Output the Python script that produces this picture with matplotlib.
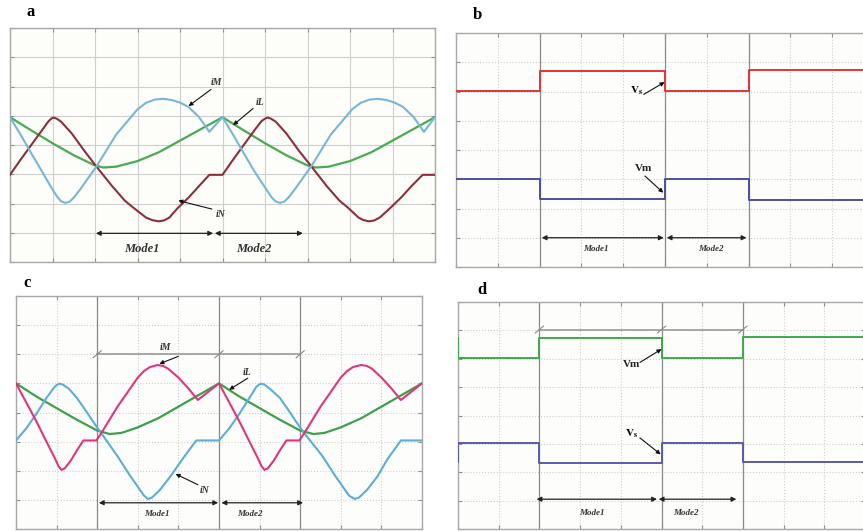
import matplotlib
matplotlib.use("Agg")
import matplotlib.pyplot as plt

plt.rcParams['mathtext.fontset'] = 'stix'
SERIF = ['Liberation Serif', 'DejaVu Serif']

# ---------------- data (x and y in scope divisions) ----------------
# panel a
a_t_iM = [0, 0.25, 0.5, 0.75, 0.95, 1.1, 1.2, 1.3, 1.4, 1.5, 1.65, 2.04, 2.5, 3.0, 3.2, 3.4, 3.6, 3.8, 4.0, 4.2, 4.45, 4.69, 5.0,
          5.25, 5.5, 5.75, 6.0, 6.15, 6.25, 6.35, 6.45, 6.55, 6.7, 7.1, 7.55, 8.05, 8.25, 8.45, 8.65, 8.85, 9.05, 9.25, 9.5, 9.74, 10.0]
a_iM = [4.95, 4.35, 3.72, 3.1, 2.6, 2.25, 2.08, 2.02, 2.06, 2.2, 2.48, 3.28, 4.36, 5.22, 5.44, 5.55, 5.58, 5.54, 5.45, 5.3, 4.95, 4.45, 4.95,
        4.35, 3.72, 3.1, 2.55, 2.22, 2.07, 2.02, 2.06, 2.2, 2.48, 3.3, 4.36, 5.22, 5.44, 5.55, 5.58, 5.54, 5.45, 5.3, 4.95, 4.45, 4.95]
a_t_iN = [0, 0.25, 0.5, 0.75, 0.9, 0.97, 1.02, 1.1, 1.2, 1.45, 1.75, 2.04, 2.4, 2.7, 2.9, 3.2, 3.35, 3.5, 3.62, 3.75, 3.95, 4.2, 4.45, 4.69, 5.0,
          5.25, 5.5, 5.75, 5.92, 6.0, 6.06, 6.14, 6.25, 6.5, 6.8, 7.1, 7.45, 7.75, 7.95, 8.2, 8.32, 8.45, 8.57, 8.7, 8.95, 9.2, 9.45, 9.71, 10.0]
a_iN = [2.98, 3.5, 4.0, 4.5, 4.8, 4.9, 4.94, 4.9, 4.8, 4.4, 3.8, 3.25, 2.6, 2.1, 1.86, 1.52, 1.43, 1.39, 1.42, 1.52, 1.85, 2.2, 2.6, 2.98, 2.98,
        3.5, 4.0, 4.5, 4.82, 4.9, 4.94, 4.9, 4.8, 4.4, 3.8, 3.25, 2.6, 2.1, 1.86, 1.52, 1.43, 1.39, 1.42, 1.52, 1.85, 2.2, 2.6, 2.98, 2.98]
a_t_iL = [0, 0.5, 1.0, 1.5, 2.0, 2.2, 2.5, 3.0, 3.5, 4.0, 4.5, 5.0,
          5.5, 6.0, 6.5, 7.0, 7.2, 7.5, 8.0, 8.5, 9.0, 9.5, 10.0]
a_iL = [4.95, 4.5, 4.06, 3.65, 3.3, 3.23, 3.26, 3.45, 3.75, 4.15, 4.55, 4.95,
        4.5, 4.06, 3.65, 3.3, 3.23, 3.26, 3.45, 3.75, 4.15, 4.55, 4.95]

# panel b (step waveforms)
b_t = [0, 2, 5, 7, 10]
b_Vs = [6.01, 6.71, 6.01, 6.72, 6.72]
b_Vm = [3.02, 2.31, 3.02, 2.29, 2.29]

# panel c
c_t_iM = [0, 0.25, 0.5, 0.75, 0.95, 1.05, 1.12, 1.2, 1.35, 1.5, 1.66, 1.98, 2.1, 2.5, 3.0, 3.15, 3.3, 3.48, 3.62, 3.75, 4.0, 4.25, 4.48, 5.0,
          5.25, 5.5, 5.75, 5.95, 6.05, 6.12, 6.2, 6.35, 6.5, 6.66, 6.98, 7.1, 7.5, 8.0, 8.15, 8.3, 8.5, 8.64, 8.77, 9.0, 9.25, 9.48, 10.0]
c_iM = [5.0, 4.35, 3.7, 3.0, 2.45, 2.15, 2.03, 2.08, 2.35, 2.7, 3.04, 3.04, 3.29, 4.2, 5.2, 5.42, 5.56, 5.63, 5.6, 5.5, 5.2, 4.82, 4.43, 5.0,
        4.35, 3.7, 3.0, 2.45, 2.15, 2.03, 2.08, 2.35, 2.7, 3.04, 3.04, 3.29, 4.2, 5.2, 5.42, 5.56, 5.63, 5.6, 5.5, 5.2, 4.82, 4.43, 5.0]
c_t_iN = [0, 0.25, 0.5, 0.75, 0.95, 1.02, 1.08, 1.15, 1.3, 1.5, 1.75, 2.0, 2.1, 2.5, 2.8, 3.0, 3.15, 3.25, 3.35, 3.55, 3.8, 4.1, 4.44, 5.0,
          5.25, 5.5, 5.75, 5.92, 5.99, 6.04, 6.12, 6.25, 6.5, 6.75, 7.0, 7.1, 7.55, 7.85, 8.05, 8.2, 8.34, 8.45, 8.65, 8.9, 9.15, 9.48, 10.0]
c_iN = [3.04, 3.45, 3.95, 4.5, 4.88, 4.96, 4.99, 4.96, 4.82, 4.5, 4.0, 3.48, 3.29, 2.5, 1.85, 1.45, 1.15, 1.03, 1.08, 1.35, 1.8, 2.4, 3.04, 3.04,
        3.45, 3.95, 4.5, 4.88, 4.96, 4.99, 4.96, 4.82, 4.5, 4.0, 3.48, 3.29, 2.5, 1.85, 1.45, 1.15, 1.03, 1.08, 1.35, 1.8, 2.4, 3.04, 3.04]
c_t_iL = [0, 0.5, 1.0, 1.5, 2.0, 2.31, 2.6, 3.0, 3.5, 4.0, 4.5, 5.0,
          5.5, 6.0, 6.5, 7.0, 7.33, 7.6, 8.0, 8.5, 9.0, 9.5, 10.0]
c_iL = [5.0, 4.55, 4.15, 3.75, 3.38, 3.26, 3.3, 3.49, 3.8, 4.2, 4.6, 5.0,
        4.55, 4.15, 3.75, 3.38, 3.26, 3.3, 3.49, 3.8, 4.2, 4.6, 5.0]

# panel d (step waveforms)
d_t = [0, 0, 2, 5, 7, 10]
d_Vm = [6.74, 6.04, 6.74, 6.04, 6.76, 6.76]
d_Vs = [2.35, 3.04, 2.33, 3.04, 2.36, 2.36]

mode_labels = ['Mode1', 'Mode2']

# ---------------- styling helpers ----------------
fig = plt.figure(figsize=(8.63, 5.31), dpi=100)
W, H = 863.0, 531.0


def make_ax(x0, x1, y0, y1, face, grid_ls):
    ax = fig.add_axes([x0 / W, 1 - y1 / H, (x1 - x0) / W, (y1 - y0) / H])
    ax.set_xlim(0, 10)
    ax.set_ylim(0, 8)
    ax.set_facecolor(face)
    ax.set_xticks(range(0, 11))
    ax.set_yticks(range(0, 9))
    ax.set_xticklabels([])
    ax.set_yticklabels([])
    ax.tick_params(direction='in', length=3, width=0.8, colors='#909090',
                   top=True, right=True)
    for s in ax.spines.values():
        s.set_color('#a8a8a8')
        s.set_linewidth(1.0)
    ax.grid(True, color='#cfcfcf', linestyle=grid_ls, linewidth=0.8)
    ax.set_axisbelow(True)
    return ax


def arrow(ax, tail, tip):
    ax.annotate('', xy=tip, xytext=tail,
                arrowprops=dict(arrowstyle='-|>', color='#111111', lw=0.8,
                                mutation_scale=6, shrinkA=0, shrinkB=0))


def mode_arrows(ax, y, x1a, x1b, x2a, x2b, ylab, c1, c2, fs):
    for xa, xb, xc, lab in ((x1a, x1b, c1, mode_labels[0]), (x2a, x2b, c2, mode_labels[1])):
        ax.annotate('', xy=(xb, y), xytext=(xa, y),
                    arrowprops=dict(arrowstyle='<|-|>', color='#222222', lw=0.9,
                                    mutation_scale=7, shrinkA=0, shrinkB=0))
        ax.text(xc, ylab, lab, ha='center', va='center', family=SERIF,
                style='italic', weight='bold', fontsize=fs, color='#333333')


def mode_verticals(ax):
    for xv in (2, 5, 7):
        ax.axvline(xv, color='#8a8a8a', lw=0.9, zorder=1.5)


def top_bar(ax, y):
    ax.plot([2, 7], [y, y], color='#9a9a9a', lw=1.2, zorder=1.6)
    for xv in (2, 5, 7):
        ax.plot([xv - 0.1, xv + 0.1], [y - 0.12, y + 0.12], color='#8a8a8a', lw=0.8, zorder=1.6)


lab_kw = dict(family=SERIF, style='italic', weight='bold', fontsize=7, color='#333333',
              ha='center', va='center')
v_kw = dict(family=SERIF, weight='bold', fontsize=8, color='#222222', ha='center', va='center')

# ---------------- panel a ----------------
ax = make_ax(10, 435, 28, 262, '#fdfdf9', '-')
ax.plot(a_t_iL, a_iL, color='#4aaa52', lw=1.6, zorder=3)
ax.plot(a_t_iN, a_iN, color='#8c2f3c', lw=1.5, zorder=3)
ax.plot(a_t_iM, a_iM, color='#78b6d6', lw=1.5, zorder=3)
arrow(ax, (4.73, 5.9), (4.2, 5.33))
ax.text(4.86, 6.13, 'iM', **lab_kw)
arrow(ax, (5.72, 5.25), (5.25, 4.68))
ax.text(5.88, 5.45, 'iL', **lab_kw)
arrow(ax, (4.75, 1.81), (3.96, 2.1))
ax.text(4.95, 1.64, 'iN', **lab_kw)
mode_arrows(ax, 0.98, 2.02, 4.78, 4.82, 6.89, 0.44, 3.1, 5.73, 9)
fig.text(31 / W, 1 - 12 / H, 'a', family=SERIF, weight='bold', fontsize=12, ha='center', va='center')

# ---------------- panel b ----------------
ax = make_ax(456, 874, 33, 267, '#fdfdfb', ':')
mode_verticals(ax)
ax.step(b_t, b_Vs, where='post', color='#e03535', lw=1.4, zorder=3)
ax.step(b_t, b_Vm, where='post', color='#4d4f9c', lw=1.4, zorder=3)
arrow(ax, (4.49, 5.9), (4.99, 6.32))
ax.text(4.33, 6.03, r'$\mathbf{V_s}$', fontsize=8, ha='center', va='center')
arrow(ax, (4.52, 3.11), (4.96, 2.54))
ax.text(4.48, 3.38, 'Vm', **v_kw)
mode_arrows(ax, 1.0, 2.05, 4.97, 5.04, 6.95, 0.61, 3.34, 6.09, 6.5)
fig.text(477 / W, 1 - 15 / H, 'b', family=SERIF, weight='bold', fontsize=12, ha='center', va='center')

# ---------------- panel c ----------------
ax = make_ax(16, 422, 296, 529, '#fdfdfb', ':')
mode_verticals(ax)
top_bar(ax, 6.0)
ax.plot(c_t_iL, c_iL, color='#3ea04c', lw=1.6, zorder=3)
ax.plot(c_t_iN, c_iN, color='#5aaed8', lw=1.5, zorder=3)
ax.plot(c_t_iM, c_iM, color='#e0357c', lw=1.5, zorder=3)
arrow(ax, (4.0, 5.93), (3.53, 5.67))
ax.text(3.69, 6.23, 'iM', **lab_kw)
arrow(ax, (5.71, 5.18), (5.25, 4.78))
ax.text(5.69, 5.36, 'iL', **lab_kw)
arrow(ax, (4.48, 1.52), (3.93, 1.89))
ax.text(4.65, 1.31, 'iN', **lab_kw)
mode_arrows(ax, 0.9, 2.04, 4.98, 5.06, 7.07, 0.5, 3.46, 5.75, 6.5)
fig.text(27 / W, 1 - 283 / H, 'c', family=SERIF, weight='bold', fontsize=12, ha='center', va='center')

# ---------------- panel d ----------------
ax = make_ax(458, 865, 302, 529, '#fdfdfb', ':')
mode_verticals(ax)
top_bar(ax, 7.03)
ax.step(d_t, d_Vm, where='post', color='#3daa4c', lw=1.4, zorder=3)
ax.step(d_t, d_Vs, where='post', color='#5a5aa8', lw=1.4, zorder=3)
arrow(ax, (4.47, 5.87), (5.0, 6.34))
ax.text(4.26, 5.8, 'Vm', **v_kw)
arrow(ax, (4.47, 3.21), (4.98, 2.63))
ax.text(4.26, 3.35, r'$\mathbf{V_s}$', fontsize=8, ha='center', va='center')
mode_arrows(ax, 1.05, 1.93, 4.89, 4.93, 6.84, 0.55, 3.3, 5.61, 6.5)
fig.text(482 / W, 1 - 290 / H, 'd', family=SERIF, weight='bold', fontsize=12, ha='center', va='center')

fig.savefig('out.png', dpi=100, facecolor='white')
